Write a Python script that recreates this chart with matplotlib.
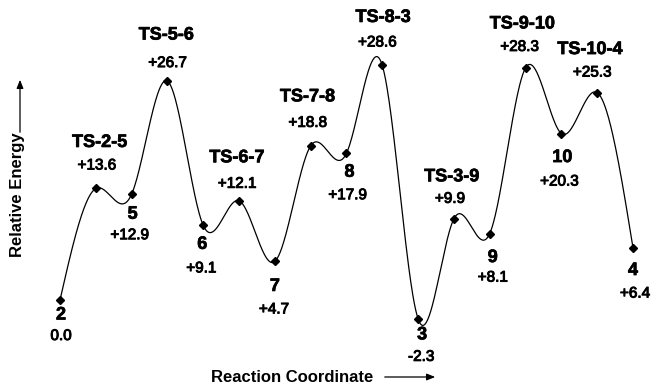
import numpy as np
import matplotlib
matplotlib.use("Agg")
import matplotlib.pyplot as plt
import matplotlib.patheffects as pe

# ---- data ----
species = ["2", "TS-2-5", "5", "TS-5-6", "6", "TS-6-7", "7", "TS-7-8", "8",
           "TS-8-3", "3", "TS-3-9", "9", "TS-9-10", "10", "TS-10-4", "4"]
energies = [0.0, 13.6, 12.9, 26.7, 9.1, 12.1, 4.7, 18.8, 17.9,
            28.6, -2.3, 9.9, 8.1, 28.3, 20.3, 25.3, 6.4]
value_labels = ["0.0", "+13.6", "+12.9", "+26.7", "+9.1", "+12.1", "+4.7", "+18.8",
                "+17.9", "+28.6", "-2.3", "+9.9", "+8.1", "+28.3", "+20.3", "+25.3", "+6.4"]
coord = list(range(len(species)))

# label offsets (pixels, image y-down) for name and value labels
name_off = [(1, 15), (4, -46), (1, 20), (-1, -46), (-1, 19), (-2, -43), (0, 25), (-3, -49),
            (3, 19), (1, -48), (4, 16), (-2, -42), (3, 24), (-3, -44), (1, 24), (-7, -43), (0, 23)]
val_off = [(1, 36), (1, -23), (-2, 41), (0, -18), (-2, 43), (-2, -17), (-1, 48), (-3, -23),
           (1, 42), (-5, -23), (3, 38), (-4, -20), (3, 44), (-6, -21), (-2, 48), (-5, -20), (2, 46)]


def natural_spline(x, y, xs):
    x = np.asarray(x, float); y = np.asarray(y, float)
    n = len(x)
    h = np.diff(x)
    A = np.zeros((n, n)); b = np.zeros(n)
    A[0, 0] = 1; A[-1, -1] = 1
    for i in range(1, n - 1):
        A[i, i - 1] = h[i - 1]
        A[i, i] = 2 * (h[i - 1] + h[i])
        A[i, i + 1] = h[i]
        b[i] = 3 * ((y[i + 1] - y[i]) / h[i] - (y[i] - y[i - 1]) / h[i - 1])
    c = np.linalg.solve(A, b)
    bb = np.zeros(n - 1); d = np.zeros(n - 1)
    for i in range(n - 1):
        bb[i] = (y[i + 1] - y[i]) / h[i] - h[i] * (2 * c[i] + c[i + 1]) / 3
        d[i] = (c[i + 1] - c[i]) / (3 * h[i])
    idx = np.clip(np.searchsorted(x, xs) - 1, 0, n - 2)
    t = xs - x[idx]
    return y[idx] + bb[idx] * t + c[idx] * t ** 2 + d[idx] * t ** 3


W, H = 651, 389
fig = plt.figure(figsize=(W / 100, H / 100), dpi=100)
ax = fig.add_axes([0, 0, 1, 1])
x0, xs_px = 60.0, 35.81
y0, ys_px = 300.0, 8.2
ax.set_xlim((0 - x0) / xs_px, (W - x0) / xs_px)
ax.set_ylim((y0 - H) / ys_px, y0 / ys_px)
ax.axis("off")

xs = np.linspace(coord[0], coord[-1], 800)
ax.plot(xs, natural_spline(coord, energies, xs), color="black", lw=0.9)
ax.plot(coord, energies, "D", color="black", ms=4)

fam = ["Liberation Sans", "DejaVu Sans"]
thick = [pe.withStroke(linewidth=0.7, foreground="black")]
heavy = [pe.withStroke(linewidth=0.5, foreground="black")]
for i in range(len(species)):
    ax.annotate(species[i], xy=(coord[i], energies[i]),
                xytext=(name_off[i][0], -name_off[i][1]), textcoords="offset pixels",
                ha="center", va="center", fontsize=13, fontweight="bold", family=fam,
                path_effects=heavy)
    ax.annotate(value_labels[i], xy=(coord[i], energies[i]),
                xytext=(val_off[i][0], -val_off[i][1]), textcoords="offset pixels",
                ha="center", va="center", fontsize=11, family=fam, path_effects=thick)

# axis labels with arrows
fig.text(18 / W, 1 - 195 / H, "Relative Energy", rotation=90, ha="center", va="center",
         fontsize=12, fontweight="bold", family=fam)
fig.patches.append(matplotlib.patches.FancyArrowPatch(
    (20 / W, 1 - 135 / H), (20 / W, 1 - 77 / H), transform=fig.transFigure,
    arrowstyle="-|>,head_length=5,head_width=2", color="black", lw=0.9))
fig.text(292 / W, 1 - 377 / H, "Reaction Coordinate", ha="center", va="center",
         fontsize=12, fontweight="bold", family=fam)
fig.patches.append(matplotlib.patches.FancyArrowPatch(
    (382 / W, 1 - 377 / H), (438 / W, 1 - 377 / H), transform=fig.transFigure,
    arrowstyle="-|>,head_length=5,head_width=2", color="black", lw=0.9))

fig.savefig("out.png", dpi=100)
